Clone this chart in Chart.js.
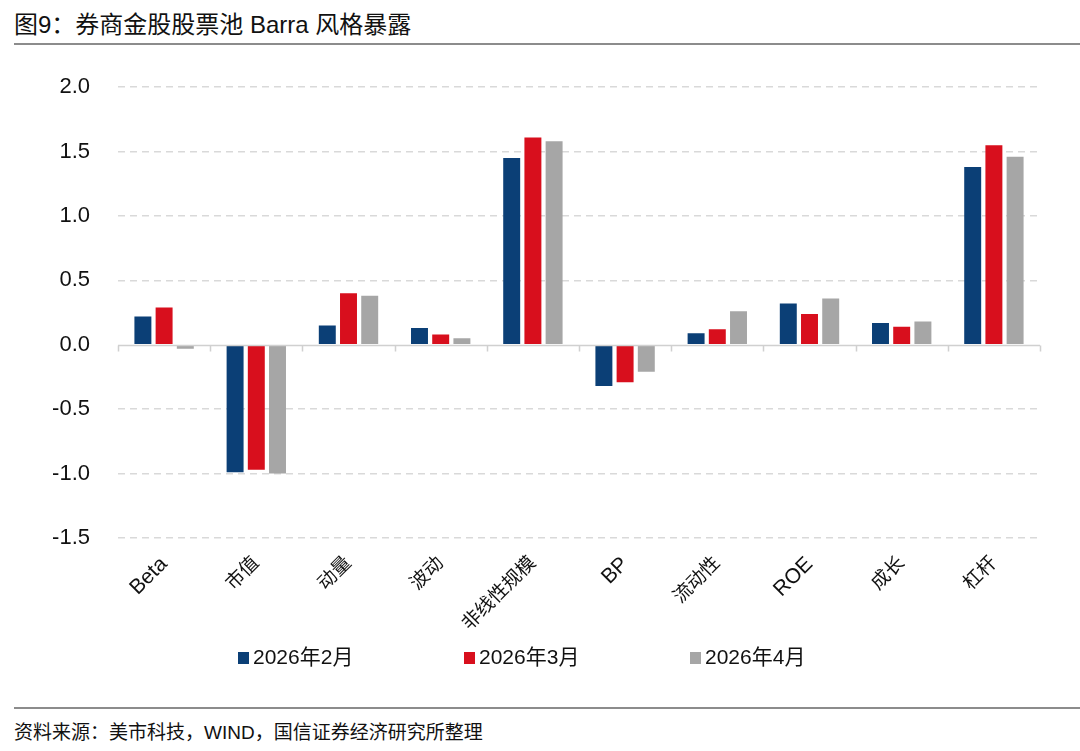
<!DOCTYPE html>
<html>
<head>
<meta charset="utf-8">
<script src="https://cdn.jsdelivr.net/npm/chart.js@4.4.1/dist/chart.umd.min.js"></script>
<style>
  html, body { margin: 0; padding: 0; background: #fff; }
  body { width: 1080px; height: 751px; position: relative; overflow: hidden;
         font-family: "Liberation Sans", "Noto Sans CJK SC", sans-serif; color: #111; }
  .title { position: absolute; left: 14px; top: 5px; font-size: 24px; }
  .rule { position: absolute; left: 14px; right: 0; height: 2px; background: #8c8c8c; }
  .foot { position: absolute; left: 14px; top: 717px; font-size: 19px; }
  #wrap { position: absolute; left: 0; top: 46px; width: 1080px; height: 614px; }
  .legend { position: absolute; top: 640px; left: 0; width: 1080px; font-size: 21px; }
  .legend span.item { position: absolute; white-space: nowrap; }
  .legend i { display: inline-block; width: 11px; height: 12px; margin-right: 4px; vertical-align: 0px; }
</style>
</head>
<body>
<div class="title">图9：券商金股股票池 Barra 风格暴露</div>
<div class="rule" style="top:43px"></div>
<div id="wrap"><canvas id="c"></canvas></div>
<div class="legend" id="legend"></div>
<div class="rule" style="top:707px"></div>
<div class="foot">资料来源：美市科技，WIND，国信证券经济研究所整理</div>
<script>
// 数据
const categories = ['Beta', '市值', '动量', '波动', '非线性规模', 'BP', '流动性', 'ROE', '成长', '杠杆'];
const seriesNames = ['2026年2月', '2026年3月', '2026年4月'];
const feb = [0.22, -0.99, 0.15, 0.13, 1.45, -0.32, 0.09, 0.32, 0.17, 1.38];
const mar = [0.29, -0.97, 0.40, 0.08, 1.61, -0.29, 0.12, 0.24, 0.14, 1.55];
const apr = [-0.03, -1.00, 0.38, 0.05, 1.58, -0.21, 0.26, 0.36, 0.18, 1.46];
const yTicks = [2.0, 1.5, 1.0, 0.5, 0.0, -0.5, -1.0, -1.5];

const colors = ['#0b3f76', '#d80f1d', '#a6a6a6'];
const fontFam = '"Liberation Sans", "Noto Sans CJK SC", sans-serif';

// 零轴和分类刻度线
const zeroAxis = {
    id: 'zeroAxis',
    afterDatasetsDraw(chart) {
        const { ctx, chartArea, scales } = chart;
        const y0 = Math.round(scales.y.getPixelForValue(0)) + 0.5;
        ctx.save();
        ctx.strokeStyle = '#d0d0d0';
        ctx.lineWidth = 1.5;
        ctx.beginPath();
        ctx.moveTo(chartArea.left, y0);
        ctx.lineTo(chartArea.right, y0);
        const step = (chartArea.right - chartArea.left) / categories.length;
        for (let i = 0; i <= categories.length; i++) {
            const x = Math.round(chartArea.left + i * step) + 0.5;
            ctx.moveTo(x, y0);
            ctx.lineTo(x, y0 + 6);
        }
        ctx.stroke();
        ctx.restore();
    }
};

new Chart(document.getElementById('c').getContext('2d'), {
    type: 'bar',
    data: {
        labels: categories,
        datasets: [feb, mar, apr].map((d, i) => ({
            label: seriesNames[i],
            data: d,
            backgroundColor: colors[i],
            categoryPercentage: 0.69,
            barPercentage: 0.8
        }))
    },
    options: {
        responsive: true,
        maintainAspectRatio: false,
        animation: false,
        layout: { padding: { top: 25, right: 40, bottom: 22, left: 0 } },
        plugins: { legend: { display: false }, tooltip: { enabled: false } },
        scales: {
            x: {
                grid: { display: false },
                border: { display: false },
                afterFit(scale) { scale.height = 100; },
                ticks: {
                    minRotation: 45,
                    maxRotation: 45,
                    autoSkip: false,
                    padding: 6,
                    color: '#111',
                    font: (ctx) => {
                        const t = categories[ctx.index] || '';
                        return /^[A-Za-z]+$/.test(t)
                            ? { family: fontFam, size: 21 }
                            : { family: fontFam, size: 19 };
                    }
                }
            },
            y: {
                min: -1.5,
                max: 2.0,
                afterFit(scale) { scale.width = 118; },
                afterBuildTicks(scale) { scale.ticks = yTicks.map(v => ({ value: v })); },
                border: { display: false, dash: [7, 5] },
                grid: {
                    drawTicks: false,
                    color: (ctx) => (ctx.tick && ctx.tick.value === 0) ? 'rgba(0,0,0,0)' : '#d9d9d9',
                    lineWidth: 1.5
                },
                ticks: {
                    padding: 28,
                    color: '#111',
                    font: { family: fontFam, size: 22 },
                    callback: (v) => Number(v).toFixed(1)
                }
            }
        }
    },
    plugins: [zeroAxis]
});

// 图例
const legend = document.getElementById('legend');
const legendX = [238, 464, 690];
seriesNames.forEach((name, i) => {
    const s = document.createElement('span');
    s.className = 'item';
    s.style.left = legendX[i] + 'px';
    s.innerHTML = '<i style="background:' + colors[i] + '"></i>' + name;
    legend.appendChild(s);
});
</script>
</body>
</html>
